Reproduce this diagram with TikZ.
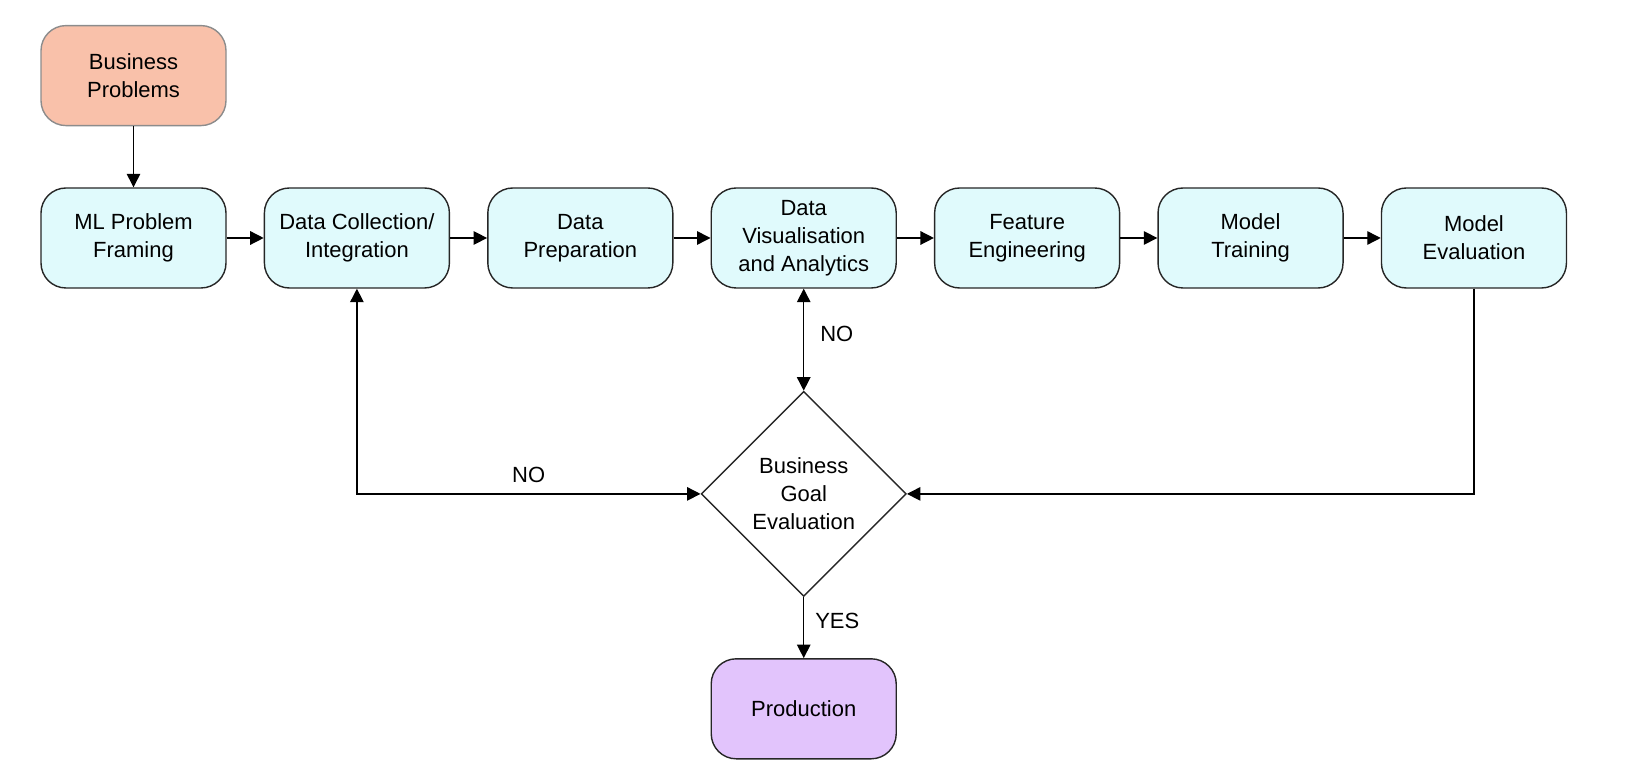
\documentclass[tikz,border=0pt]{standalone}
\usepackage{fontspec}
\setmainfont{Liberation Sans}
\usetikzlibrary{arrows.meta, shapes.geometric, positioning}

\definecolor{stepfill}{HTML}{E0FAFC}
\definecolor{startfill}{HTML}{F9C1AA}
\definecolor{endfill}{HTML}{E2C4FC}

\begin{document}
\begin{tikzpicture}[
        node distance=0.74cm,
        every node/.style={align=center, font=\fontsize{12.5}{16}\selectfont},
        stepbox/.style={draw=black!85, thick, fill=stepfill, rounded corners=0.5cm,
            minimum width=3.7cm, minimum height=2cm, inner sep=2pt},
        line/.style={-{Triangle[length=0.27cm, width=0.27cm]}, thick},
        twoway/.style={{Triangle[length=0.27cm, width=0.27cm]}-{Triangle[length=0.27cm, width=0.27cm]}, thick},
    ]
    \useasboundingbox (0,0) rectangle (33,15.56);
    % Nodes
    \node[stepbox] (mlframe) at (2.67,10.8) {ML Problem \\ Framing};
    \node[stepbox, fill=startfill, draw=black!45, above=1.22cm of mlframe] (bizprob) {Business \\ Problems};
    \node[stepbox, right=of mlframe] (collect) {Data Collection/ \\ Integration};
    \node[stepbox, right=of collect] (prep) {Data \\ Preparation};
    \node[stepbox, right=of prep] (visual) {Data \\ Visualisation \\ and Analytics};
    \node[stepbox, right=of visual] (feature) {Feature \\ Engineering};
    \node[stepbox, right=of feature] (train) {Model \\ Training};
    \node[stepbox, right=of train] (modeleval) {Model \\ Evaluation};
    \node[draw=black!85, thick, shape=diamond, minimum width=4.1cm, minimum height=4.1cm,
        inner sep=0pt, below=2.04cm of visual] (goal) {Business \\ Goal \\ Evaluation};
    \node[stepbox, fill=endfill, below=1.22cm of goal] (prod) {Production};
    % Arrows
    \draw[line] (bizprob) -- (mlframe);
    \draw[line] (mlframe) -- (collect);
    \draw[line] (collect) -- (prep);
    \draw[line] (prep) -- (visual);
    \draw[line] (visual) -- (feature);
    \draw[line] (feature) -- (train);
    \draw[line] (train) -- (modeleval);
    \draw[twoway] (visual) -- node[right=0.2cm, yshift=0.12cm] {NO} (goal);
    \draw[twoway] (collect.south) |- node[pos=0.75, above=0.1cm] {NO} (goal.west);
    \draw[line] (modeleval.south) |- (goal.east);
    \draw[line] (goal) -- node[right=0.1cm, yshift=0.14cm] {YES} (prod);
\end{tikzpicture}
\end{document}
